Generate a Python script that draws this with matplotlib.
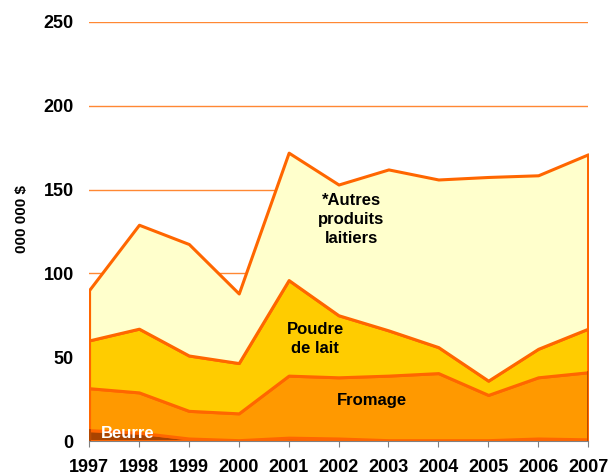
import numpy as np
import matplotlib
matplotlib.use("Agg")
import matplotlib.pyplot as plt

plt.rcParams["font.family"] = ["Liberation Sans", "DejaVu Sans"]

years = [1997, 1998, 1999, 2000, 2001, 2002, 2003, 2004, 2005, 2006, 2007]
beurre = [6.5, 5, 1.5, 0.5, 2, 1.5, 0.5, 0.5, 0.5, 1.5, 1]
fromage_cum = [31.5, 29, 18, 16.5, 39, 38, 39, 40.5, 27.5, 38, 41]
poudre_cum = [60, 67, 51, 46.5, 96, 75, 66, 56, 36, 55, 67]
total = [90, 129, 117.5, 88, 172, 153, 162, 156, 157.5, 158.5, 171]

fromage = np.array(fromage_cum) - np.array(beurre)
poudre = np.array(poudre_cum) - np.array(fromage_cum)
autres = np.array(total) - np.array(poudre_cum)

fig = plt.figure(figsize=(6.1, 4.76), dpi=100)
ax = fig.add_axes([0.146, 0.0735, 0.818, 0.8805])

ax.stackplot(years, beurre, fromage, poudre, autres,
             colors=["#A84300", "#FF9900", "#FFCC00", "#FFFFCC"],
             edgecolor="#FF6600", linewidth=2.2, zorder=2)
# darker side edges like the original
ax.plot([2007, 2007], [0, fromage_cum[-1]], color="#B34700", lw=2, zorder=2.5)
ax.plot([1997, 1997], [0, beurre[0]], color="#B34700", lw=2, zorder=2.5)

ax.set_xlim(1997, 2007)
ax.set_ylim(0, 250)
ax.set_yticks([0, 50, 100, 150, 200, 250])
ax.set_xticks(years)
ax.yaxis.grid(True, color="#FF8833", linewidth=1)
ax.set_axisbelow(True)
for s in ["top", "right", "left"]:
    ax.spines[s].set_visible(False)
ax.spines["bottom"].set_color("#808080")
ax.tick_params(axis="y", length=0, pad=11, labelsize=13)
ax.tick_params(axis="x", color="#808080", length=4, pad=9, labelsize=13)
for lbl in ax.get_xticklabels() + ax.get_yticklabels():
    lbl.set_fontweight("bold")
ax.set_ylabel("000 000 $", fontsize=11, fontweight="bold")
ax.yaxis.set_label_coords(-0.12, 0.53)

ax.text(2002.25, 132, "*Autres\nproduits\nlaitiers", ha="center", va="center",
        fontsize=12, fontweight="bold", linespacing=1.35, zorder=3)
ax.text(2001.53, 61, "Poudre\nde lait", ha="center", va="center",
        fontsize=12, fontweight="bold", linespacing=1.35, zorder=3)
ax.text(2002.66, 24, "Fromage", ha="center", va="center",
        fontsize=12, fontweight="bold", zorder=3)
ax.text(1997.78, 4.3, "Beurre", ha="center", va="center", color="white",
        fontsize=12, fontweight="bold", zorder=3)

fig.savefig("out.png", dpi=100)
